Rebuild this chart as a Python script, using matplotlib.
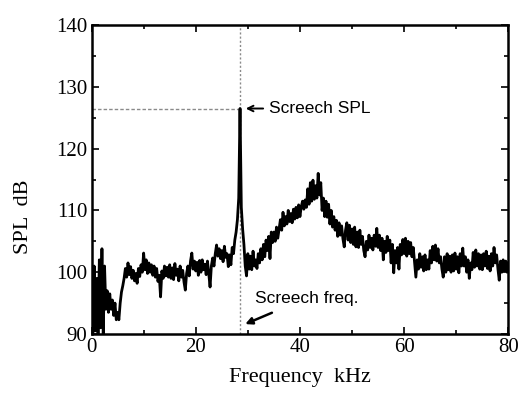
import numpy as np
import matplotlib
matplotlib.use("Agg")
import matplotlib.pyplot as plt
from matplotlib.ticker import MultipleLocator

freq_khz = np.arange(0, 80.001, 0.25)
spl_db = [
    # 0 - 4.75
    100.0, 90.0, 101.0, 90.5, 99.0, 90.0, 102.0, 91.0, 103.8, 90.0,
    101.0, 94.0, 97.0, 93.5, 96.5, 94.0, 95.5, 93.0, 95.0, 92.3,
    # 5 - 9.75
    93.5, 92.3, 95.0, 96.8, 97.8, 99.0, 100.6, 99.2, 101.5, 99.6,
    100.9, 99.0, 100.3, 98.6, 99.8, 98.2, 100.6, 99.3, 101.2, 100.0,
    # 10 - 14.75
    103.1, 100.4, 102.0, 99.8, 101.5, 100.0, 101.2, 99.5, 101.0, 99.2,
    100.6, 98.5, 99.5, 96.0, 100.2, 99.0, 101.0, 99.4, 100.8, 99.2,
    # 15 - 19.75
    101.2, 99.0, 100.7, 98.8, 101.4, 99.5, 100.5, 98.6, 101.0, 99.2,
    100.3, 98.4, 97.1, 99.8, 101.0, 99.4, 101.8, 103.1, 100.5, 101.8,
    # 20 - 24.75
    100.2, 101.6, 99.5, 101.9, 100.0, 102.0, 100.4, 101.3, 99.6, 101.8,
    99.8, 97.6, 101.0, 102.3, 101.0, 103.0, 104.4, 102.6, 103.8, 102.2,
    # 25 - 29.75
    103.5, 101.7, 104.2, 102.4, 103.0, 100.9, 102.8, 101.2, 104.0, 103.0,
    105.2, 106.5, 108.5, 112.0, 126.5, 110.5, 107.0, 104.5, 101.0, 99.4,
    # 30 - 34.75
    103.0, 100.5, 102.6, 100.4, 103.4, 101.0, 102.0, 100.6, 103.0, 101.5,
    103.8, 102.0, 104.5, 102.5, 105.2, 103.5, 105.8, 102.2, 106.5, 104.8,
    # 35 - 39.75
    106.5, 105.0, 107.3, 105.5, 107.0, 108.5, 106.8, 109.7, 107.5, 109.0,
    107.8, 110.0, 108.2, 109.5, 108.0, 110.2, 108.6, 110.5, 108.8, 110.9,
    # 40 - 44.75
    109.0, 110.6, 111.5, 110.2, 111.7, 110.5, 113.5, 111.0, 114.5, 111.5,
    114.9, 111.8, 114.0, 112.0, 116.0, 112.5, 114.5, 110.0, 112.0, 109.0,
    # 45 - 49.75
    111.5, 108.9, 111.0, 107.8, 110.0, 107.3, 109.0, 106.8, 108.4, 105.8,
    108.0, 106.0, 107.5, 105.4, 104.1, 106.8, 108.0, 105.2, 107.6, 104.8,
    # 50 - 54.75
    107.0, 104.5, 107.3, 104.1, 106.5, 104.0, 106.8, 104.5, 105.8, 103.5,
    102.5, 105.0, 103.6, 106.0, 104.0, 105.5, 103.6, 106.0, 104.2, 107.1,
    # 55 - 59.75
    104.0, 106.0, 103.5, 105.5, 102.0, 105.0, 103.2, 105.8, 103.5, 105.2,
    101.5, 104.5, 99.9, 103.5, 101.5, 104.0, 100.5, 104.5, 102.8, 105.3,
    # 60 - 64.75
    103.0, 105.5, 102.6, 105.0, 103.0, 104.8, 102.5, 104.0, 101.5, 99.2,
    102.0, 100.5, 103.0, 100.8, 102.5, 100.2, 102.8, 100.4, 102.0, 100.5,
    # 65 - 69.75
    103.5, 101.5, 104.2, 102.0, 104.4, 101.8, 103.8, 101.5, 102.5, 100.5,
    99.2, 102.5, 100.0, 103.0, 100.4, 102.6, 100.0, 102.8, 100.2, 103.1,
    # 70 - 74.75
    100.5, 102.5, 99.9, 103.0, 101.0, 103.9, 101.0, 102.5, 100.0, 102.0,
    99.0, 101.5, 100.4, 103.2, 100.8, 103.6, 101.0, 103.0, 100.5, 102.8,
    # 75 - 80
    100.4, 103.0, 101.0, 103.4, 100.6, 102.6, 100.2, 103.0, 101.0, 104.0,
    101.5, 102.8, 100.5, 98.7, 101.8, 100.0, 102.0, 100.2, 101.8, 100.0,
    101.5,
]

screech_freq = 28.5
screech_spl = 126.5

x_ticks = [0, 20, 40, 60, 80]
y_ticks = [90, 100, 110, 120, 130, 140]

serif = "Liberation Serif"
sans = "Liberation Sans"

fig = plt.figure(figsize=(5.23, 3.99), dpi=100)
ax = fig.add_axes([0.175, 0.163, 0.797, 0.774])

# guide lines to the screech tone
ax.plot([0, screech_freq - 0.4], [screech_spl, screech_spl],
        color="#8a8a8a", lw=1.0, ls=(0, (2.5, 1.5)), zorder=1)
ax.axvline(screech_freq, color="#8a8a8a", lw=1.0, ls=(0, (1.5, 1.5)), zorder=1)

ax.plot(freq_khz, spl_db, color="black", lw=2.0, zorder=3)

ax.annotate("Screech SPL", xy=(29.6, screech_spl), xytext=(34.0, screech_spl),
            fontsize=12.5, family=sans, va="center", ha="left",
            arrowprops=dict(arrowstyle="->", color="black", lw=1.4,
                            shrinkA=2, shrinkB=0, mutation_scale=10))
ax.annotate("Screech freq.", xy=(29.5, 91.6), xytext=(31.3, 95.8),
            fontsize=12.5, family=sans, va="center", ha="left",
            arrowprops=dict(arrowstyle="-|>", color="black", lw=1.8,
                            shrinkA=8, shrinkB=0, mutation_scale=10))

ax.set_xlim(0, 80)
ax.set_ylim(90, 140)
ax.set_xticks(x_ticks)
ax.set_yticks(y_ticks)
ax.xaxis.set_minor_locator(MultipleLocator(10))
ax.yaxis.set_minor_locator(MultipleLocator(5))
ax.tick_params(which="both", direction="in", top=True, right=True, width=1.2)
ax.tick_params(which="major", length=5, labelsize=15, pad=3)
ax.tick_params(which="minor", length=3)
for lab in ax.get_xticklabels() + ax.get_yticklabels():
    lab.set_family(serif)
for sp in ax.spines.values():
    sp.set_linewidth(1.8)

ax.set_xlabel("Frequency  kHz", family=serif, fontsize=16, labelpad=8)
ax.set_ylabel("SPL  dB", family=serif, fontsize=16)
ax.yaxis.set_label_coords(-0.14, 0.38)

fig.savefig("out.png", dpi=100)
